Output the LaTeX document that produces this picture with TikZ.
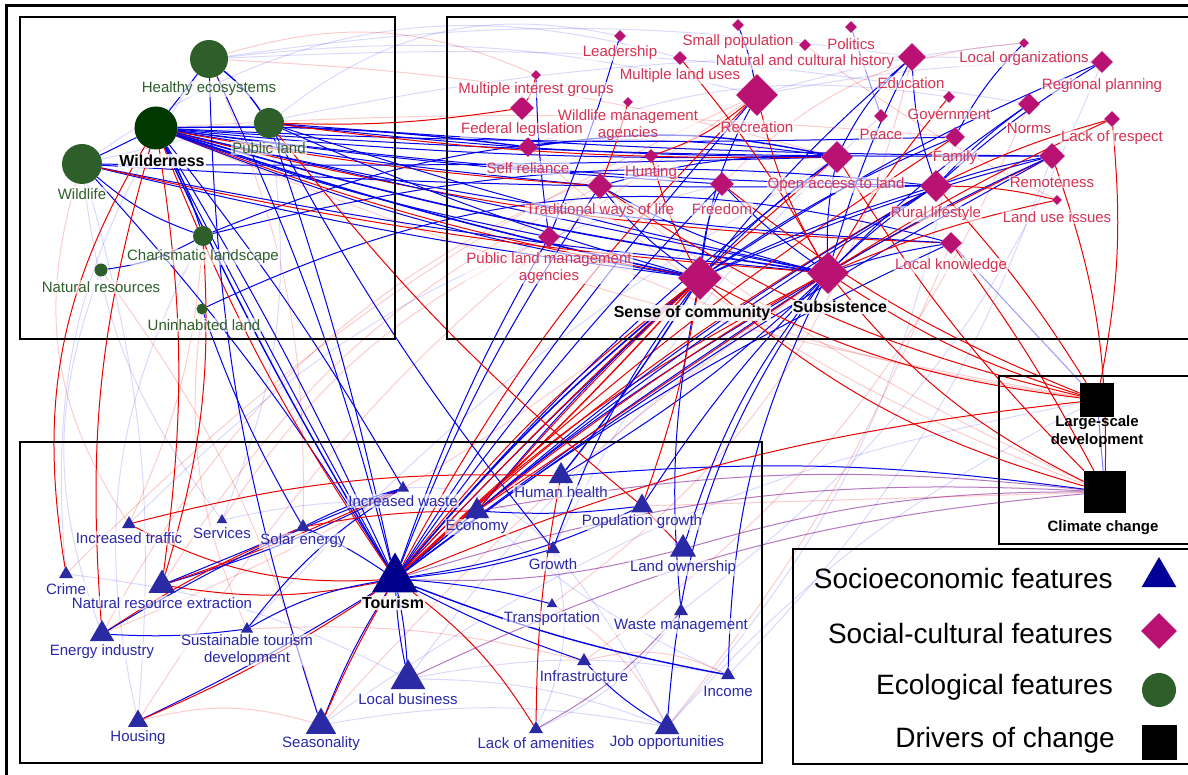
\documentclass[tikz,border=0pt]{standalone}
\usepackage{fontspec}
\setmainfont{Liberation Sans}
\usetikzlibrary{positioning,calc,shapes.geometric}

\definecolor{ecogreen}{RGB}{46,94,42}
\definecolor{wildgreen}{RGB}{0,56,0}
\definecolor{sccol}{RGB}{185,18,115}
\definecolor{sctext}{RGB}{214,50,82}
\definecolor{secol}{RGB}{42,42,165}
\definecolor{setext}{RGB}{40,40,170}
\definecolor{tourcol}{RGB}{0,0,140}
\definecolor{eblue}{RGB}{0,0,235}
\definecolor{ered}{RGB}{235,0,0}
\definecolor{epurple}{RGB}{130,30,150}

\pgfdeclarelayer{edges}
\pgfsetlayers{edges,main}

\tikzset{
	eco/.style={circle, fill=ecogreen, inner sep=0pt},
	cult/.style={diamond, fill=sccol, inner sep=0pt},
	econ/.style={regular polygon, regular polygon sides=3, fill=secol, inner sep=0pt},
	drv/.style={rectangle, fill=black, inner sep=0pt},
	lab/.style={font=\fontsize{15}{17}\selectfont, inner sep=1pt, fill=white, fill opacity=.6, text opacity=1, align=center},
	ecolab/.style={lab, text=ecogreen},
	cultlab/.style={lab, text=sctext},
	econlab/.style={lab, text=setext},
	keylab/.style={lab, font=\bfseries\fontsize{16}{18}\selectfont, fill opacity=.85},
	drvlab/.style={font=\bfseries\fontsize{15}{18}\selectfont, inner sep=1pt, align=center},
	legtxt/.style={font=\fontsize{28}{30}\selectfont, anchor=east, inner sep=0pt},
	box/.style={draw=black, line width=2pt},
	bl/.style={draw=eblue, line width=1pt},
	rd/.style={draw=ered, line width=1pt},
	fb/.style={draw=eblue, opacity=.15, line width=1pt},
	fr/.style={draw=ered, opacity=.2, line width=1pt},
	pu/.style={draw=epurple, opacity=.6, line width=1pt},
}

\begin{document}
\begin{tikzpicture}[x=1pt, y=-1pt]
	\useasboundingbox (0,0) rectangle (1188,775);
	\draw[line width=3pt] (6,775) -- (6,6) -- (1190,6);

	% boxes
	\draw[box] (20,17) rectangle (395,339);
	\draw[box] (447,17) rectangle (1192,339);
	\draw[box] (20,442) rectangle (762,763);
	\draw[box] (999,376) rectangle (1192,544);
	\draw[box] (793,549) rectangle (1192,764);

	% ecological features
	\node[eco, minimum size=38] (heal) at (209,59) {};
	\node[eco, fill=wildgreen, minimum size=43] (wild) at (156,128) {};
	\node[eco, minimum size=30] (publ) at (269,123) {};
	\node[eco, minimum size=40] (wlife) at (82,164) {};
	\node[eco, minimum size=20] (charis) at (203,236) {};
	\node[eco, minimum size=13] (natres) at (101,270) {};
	\node[eco, minimum size=11] (uninh) at (202,309) {};

	% social-cultural features
	\node[cult, minimum size=12] (lead) at (620,36) {};
	\node[cult, minimum size=12] (smallpop) at (738,25) {};
	\node[cult, minimum size=12] (natcult) at (805,45) {};
	\node[cult, minimum size=12] (politics) at (851,27) {};
	\node[cult, minimum size=14] (mland) at (680,58) {};
	\node[cult, minimum size=10] (minter) at (536,75) {};
	\node[cult, minimum size=10] (wman) at (628,102) {};
	\node[cult, minimum size=24] (fedleg) at (522,108) {};
	\node[cult, minimum size=42] (recr) at (757,95) {};
	\node[cult, minimum size=20] (selfrel) at (528,147) {};
	\node[cult, minimum size=14] (hunt) at (651,156) {};
	\node[cult, minimum size=26] (trad) at (600,186) {};
	\node[cult, minimum size=24] (freed) at (722,184) {};
	\node[cult, minimum size=22] (plma) at (549,237) {};
	\node[cult, minimum size=44] (sense) at (700,278) {};
	\node[cult, minimum size=42] (subs) at (828,273) {};
	\node[cult, minimum size=28] (educ) at (912,57) {};
	\node[cult, minimum size=10] (locorg) at (1024,43) {};
	\node[cult, minimum size=22] (regplan) at (1102,62) {};
	\node[cult, minimum size=12] (gov) at (949,97) {};
	\node[cult, minimum size=14] (peace) at (881,116) {};
	\node[cult, minimum size=22] (norms) at (1029,104) {};
	\node[cult, minimum size=16] (lackresp) at (1112,119) {};
	\node[cult, minimum size=20] (family) at (955,137) {};
	\node[cult, minimum size=32] (openacc) at (837,157) {};
	\node[cult, minimum size=26] (remote) at (1052,156) {};
	\node[cult, minimum size=32] (rural) at (936,186) {};
	\node[cult, minimum size=10] (landuse) at (1057,200) {};
	\node[cult, minimum size=22] (lockn) at (951,243) {};

	% socioeconomic features
	\node[econ, fill=tourcol, minimum size=53] (tourism) at (395,579) {};
	\node[econ, minimum size=40] (locbus) at (408,679) {};
	\node[econ, minimum size=35] (season) at (321,725) {};
	\node[econ, minimum size=31] (nre) at (162,585) {};
	\node[econ, minimum size=30] (landown) at (683,549) {};
	\node[econ, minimum size=28] (energy) at (102,634) {};
	\node[econ, minimum size=28] (economy) at (477,511) {};
	\node[econ, minimum size=28] (health) at (561,476) {};
	\node[econ, minimum size=28] (jobs) at (667,727) {};
	\node[econ, minimum size=25] (popgr) at (642,506) {};
	\node[econ, minimum size=23] (housing) at (138,721) {};
	\node[econ, minimum size=16] (inctraf) at (129,524) {};
	\node[econ, minimum size=16] (solar) at (303,527) {};
	\node[econ, minimum size=16] (crime) at (66,574) {};
	\node[econ, minimum size=16] (growth) at (553,549) {};
	\node[econ, minimum size=16] (wastem) at (681,611) {};
	\node[econ, minimum size=16] (infra) at (584,661) {};
	\node[econ, minimum size=16] (income) at (728,675) {};
	\node[econ, minimum size=16] (lackam) at (536,729) {};
	\node[econ, minimum size=14] (stdev) at (247,629) {};
	\node[econ, minimum size=14] (incwaste) at (403,488) {};
	\node[econ, minimum size=12] (serv) at (222,520) {};
	\node[econ, minimum size=12] (transp) at (552,604) {};

	% drivers of change
	\node[drv, minimum size=34] (lsd) at (1097,400) {};
	\node[drv, minimum size=42] (climate) at (1105,492) {};

	% connectors
	\begin{pgfonlayer}{edges}
	\draw[bl] (wild) -- (wlife);
	\draw[bl] (wild) -- (heal);
	\draw[bl] (wild) to[bend left=5] (charis);
	\draw[bl] (wlife) to[bend right=10] (charis);
	\draw[bl] (charis) to[bend left=10] (natres);
	\draw[bl] (charis) to[bend left=15] (openacc);
	\draw[bl] (charis) to[bend left=10] (rural);
	\draw[bl] (uninh) to[bend left=20] (lockn);
	\draw[bl, line width=1.4pt] (heal) to[bend left=8] (publ);
	\draw[bl, line width=1.6pt] (wild) to[bend right=4] (subs);
	\draw[bl, line width=1.6pt] (wild) to[bend right=3] (sense);
	\draw[bl] (wild) to[bend right=3] (openacc);
	\draw[bl] (wild) to[bend right=3] (rural);
	\draw[bl] (wild) to[bend right=2] (freed);
	\draw[bl] (wild) to[bend right=2] (trad);
	\draw[bl, line width=1.4pt] (wild) to[bend left=4] (selfrel);
	\draw[rd] (wild) to[bend right=3] (trad);
	\draw[rd] (wild) to[bend right=5] (sense);
	\draw[rd] (wild) to[bend right=6] (lockn);
	\draw[bl] (wild) to[bend right=2] (remote);
	\draw[bl] (wild) to[bend right=2] (family);
	\draw[bl] (wild) to[bend right=5] (lockn);
	\draw[bl] (wild) to[bend right=4] (plma);
	\draw[bl] (wild) to[bend right=1] (subs);
	\draw[bl] (wild) to[bend right=6] (sense);
	\draw[bl] (wlife) to[bend right=3] (subs);
	\draw[bl] (wlife) to[bend right=3] (sense);
	\draw[bl] (wlife) to[bend right=2] (rural);
	\draw[bl] (wlife) to[bend right=1] (openacc);
	\draw[rd] (wlife) to[bend right=4] (subs);
	\draw[bl] (publ) to[bend right=3] (openacc);
	\draw[bl] (publ) to[bend right=2] (remote);
	\draw[rd] (publ) to[bend right=5] (fedleg);
	\draw[bl] (publ) to[bend right=4] (sense);
	\draw[bl] (publ) to[bend right=3] (subs);
	\draw[rd] (publ) to[bend right=4] (openacc);

	\draw[bl, line width=1.6pt] (sense) to[bend right=5] (tourism);
	\draw[rd, line width=1.4pt] (sense) to[bend left=3] (tourism);
	\draw[bl] (sense) to[bend right=2] (tourism);
	\draw[rd] (sense) to[bend right=7] (tourism);
	\draw[bl] (subs) to[bend right=5] (tourism);
	\draw[rd] (subs) to[bend right=8] (tourism);
	\draw[bl] (subs) to[bend right=2] (tourism);
	\draw[bl] (openacc) to[bend right=6] (tourism);
	\draw[rd] (openacc) to[bend right=3] (tourism);
	\draw[rd] (rural) to[bend right=6] (tourism);
	\draw[bl] (rural) to[bend right=4] (tourism);
	\draw[bl] (freed) to[bend right=4] (tourism);
	\draw[rd] (recr) to[bend right=8] (tourism);
	\draw[bl] (recr) to[bend right=4] (tourism);
	\draw[bl] (trad) to[bend right=6] (tourism);
	\draw[bl] (plma) to[bend right=5] (tourism);
	\draw[bl] (lockn) to[bend right=6] (tourism);
	\draw[rd] (family) to[bend right=5] (tourism);
	\draw[bl] (remote) to[bend right=4] (tourism);
	\draw[rd] (remote) to[bend right=6] (economy);
	\draw[bl] (sense) to[bend right=4] (economy);
	\draw[rd] (sense) to[bend right=3] (economy);
	\draw[bl] (rural) to[bend right=5] (economy);
	\draw[bl, line width=1.4pt] (sense) to[bend left=3] (health);
	\draw[bl] (subs) to[bend left=6] (health);
	\draw[rd] (subs) to (economy);

	\draw[bl, line width=1.4pt] (wild) to[bend right=3] (tourism);
	\draw[bl] (wild) to[bend left=3] (tourism);
	\draw[bl] (wild) to[bend right=1] (tourism);
	\draw[bl] (wlife) to[bend left=5] (tourism);
	\draw[bl] (heal) to[bend left=5] (tourism);
	\draw[bl] (publ) to[bend left=3] (tourism);
	\draw[rd] (wild) to[bend right=6] (tourism);
	\draw[bl] (heal) to[bend right=8] (season);
	\draw[bl] (wild) to[bend left=4] (incwaste);
	\draw[bl] (publ) to[bend right=5] (growth);
	\draw[bl] (uninh) to[bend right=5] (solar);
	\draw[rd] (wild) to[bend right=20] (crime);
	\draw[rd] (wild) to[bend left=8] (nre);
	\draw[rd] (wild) to[bend right=10] (energy);
	\draw[rd] (charis) to[bend left=10] (nre);
	\draw[rd] (publ) to[bend right=6] (popgr);

	\draw[bl, line width=1.4pt] (tourism) to[bend right=5] (income);
	\draw[bl] (tourism) to[bend right=4] (infra);
	\draw[bl] (tourism) to[bend left=4] (locbus);
	\draw[bl] (tourism) to[bend right=4] (locbus);
	\draw[bl] (tourism) to[bend right=5] (season);
	\draw[rd] (tourism) to[bend right=3] (season);
	\draw[rd] (tourism) to[bend left=10] (lackam);
	\draw[rd] (tourism) to[bend left=15] (inctraf);
	\draw[rd] (tourism) to[bend left=10] (nre);
	\draw[bl] (tourism) to[bend right=10] (stdev);
	\draw[bl] (tourism) to[bend right=5] (solar);
	\draw[bl] (tourism) to[bend right=5] (growth);
	\draw[bl] (tourism) to[bend right=8] (popgr);
	\draw[pu] (tourism) to[bend right=8] (landown);
	\draw[bl] (tourism) to[bend left=5] (transp);
	\draw[bl] (nre) to[bend right=5] (incwaste);
	\draw[rd] (nre) to[bend right=3] (incwaste);
	\draw[bl] (nre) to (solar);
	\draw[bl] (energy) to[bend right=5] (stdev);
	\draw[rd] (energy) to[bend left=5] (solar);
	\draw[bl] (energy) to[bend left=5] (incwaste);
	\draw[bl] (housing) to[bend right=3] (tourism);
	\draw[rd] (housing) to[bend right=5] (tourism);
	\draw[bl] (stdev) to[bend left=10] (incwaste);
	\draw[rd] (lackam) to[bend left=5] (health);
	\draw[bl] (infra) to[bend right=8] (jobs);
	\draw[pu] (lackam) to[bend right=10] (wastem);
	\draw[rd] (inctraf) to[bend left=8] (health);
	\draw[rd] (solar) to[bend left=5] (economy);
	\draw[bl] (solar) to[bend left=5] (incwaste);
	\draw[bl] (economy) to[bend right=5] (popgr);
	\draw[rd] (popgr) to (landown);

	\draw[bl] (subs) to[bend right=10] (landown);
	\draw[bl] (subs) to[bend right=5] (popgr);
	\draw[bl] (subs) to[bend right=15] (jobs);
	\draw[bl] (subs) to[bend right=12] (income);
	\draw[bl] (sense) to[bend right=8] (growth);
	\draw[bl] (sense) to[bend right=8] (wastem);
	\draw[rd] (sense) to[bend left=5] (popgr);

	\draw[rd] (sense) to[bend right=10] (lsd);
	\draw[rd] (subs) to[bend right=8] (lsd);
	\draw[rd] (subs) to[bend right=12] (climate);
	\draw[rd] (sense) to[bend right=12] (climate);
	\draw[rd] (rural) to[bend left=5] (lsd);
	\draw[rd] (remote) to[bend left=10] (climate);
	\draw[rd] (lackresp) to[bend left=8] (lsd);
	\draw[rd] (lockn) to[bend left=4] (climate);
	\draw[rd] (trad) to[bend right=10] (lsd);
	\draw[rd] (freed) to[bend right=8] (lsd);
	\draw[rd] (openacc) to[bend right=6] (climate);
	\draw[fb, opacity=.4] (lockn) to (lsd);
	\draw[bl, opacity=.5] (lsd) -- (climate);
	\draw[rd] (tourism) to[bend left=8] (lsd);
	\draw[bl] (health) to[bend left=6] (climate);
	\draw[pu] (economy) to[bend left=8] (climate);
	\draw[pu] (landown) to[bend left=8] (climate);
	\draw[pu] (locbus) to[bend left=10] (climate);
	\draw[pu] (tourism) to[bend left=10] (climate);
	\draw[fr] (popgr) to (climate);
	\draw[fb] (jobs) to[bend left=10] (lsd);
	\draw[fr] (wild) to[bend right=6] (lsd);
	\draw[fr] (trad) to[bend right=6] (climate);
	\draw[fr] (plma) to[bend right=8] (lsd);
	\draw[fr] (selfrel) to[bend right=10] (climate);
	\draw[fb] (season) to[bend left=12] (lsd);

	\draw[bl] (sense) to[bend left=10] (recr);
	\draw[bl] (sense) to[bend left=5] (educ);
	\draw[bl] (sense) to[bend left=6] (family);
	\draw[bl] (sense) to[bend left=5] (openacc);
	\draw[bl] (sense) to[bend left=4] (rural);
	\draw[bl] (sense) to[bend left=5] (regplan);
	\draw[bl] (sense) to[bend left=4] (remote);
	\draw[bl] (sense) to[bend left=8] (freed);
	\draw[bl] (sense) to[bend left=8] (trad);
	\draw[rd] (sense) to[bend left=6] (hunt);
	\draw[bl] (subs) to[bend left=5] (rural);
	\draw[bl] (subs) to[bend left=6] (openacc);
	\draw[bl] (subs) to[bend left=5] (norms);
	\draw[bl] (subs) to[bend left=5] (educ);
	\draw[bl] (subs) to[bend left=3] (remote);
	\draw[bl] (subs) to[bend left=4] (lockn);
	\draw[bl] (subs) to[bend left=8] (trad);
	\draw[bl] (subs) to[bend left=5] (freed);
	\draw[rd] (subs) to[bend left=5] (landuse);
	\draw[rd] (subs) to[bend left=4] (lackresp);
	\draw[rd] (subs) to[bend left=5] (gov);
	\draw[rd] (subs) to[bend left=8] (recr);
	\draw[bl] (openacc) to[bend left=10] (educ);
	\draw[bl] (rural) to[bend left=5] (regplan);
	\draw[bl] (rural) to[bend left=5] (norms);
	\draw[bl] (rural) to[bend left=4] (remote);
	\draw[rd] (rural) to[bend left=5] (lackresp);
	\draw[rd] (rural) to[bend left=6] (landuse);
	\draw[bl] (family) to[bend left=8] (locorg);
	\draw[bl] (rural) to[bend left=8] (educ);
	\draw[bl] (trad) to[bend left=8] (openacc);
	\draw[bl, line width=1.4pt] (selfrel) to[bend left=10] (openacc);
	\draw[bl] (lead) to[bend left=3] (plma);
	\draw[bl] (minter) to[bend right=3] (plma);
	\draw[rd] (mland) to[bend left=5] (subs);
	\draw[rd] (recr) to[bend left=10] (hunt);
	\draw[bl] (smallpop) to[bend left=5] (recr);
	\draw[fb, opacity=.4] (politics) to (peace);
	\draw[rd] (wman) to[bend left=3] (trad);
	\draw[rd] (fedleg) to[bend right=10] (minter);

	\draw[fb] (heal) to[bend left=10] (recr);
	\draw[fb] (heal) to[bend left=8] (educ);
	\draw[fb] (heal) to[bend left=6] (norms);
	\draw[fr] (heal) to[bend left=6] (openacc);
	\draw[fb] (wlife) to[bend left=8] (regplan);
	\draw[fr] (wild) to[bend left=4] (family);
	\draw[fb] (recr) to[bend left=5] (regplan);
	\draw[fb] (recr) to[bend left=5] (locorg);
	\draw[fr] (natcult) to[bend right=5] (landuse);
	\draw[fb] (wlife) to[bend left=10] (housing);
	\draw[fr] (natres) to[bend left=10] (season);
	\draw[fb] (crime) to[bend left=10] (locbus);
	\draw[fr] (housing) to[bend left=15] (season);
	\draw[fb] (season) to[bend left=10] (jobs);
	\draw[fb] (locbus) to[bend left=10] (jobs);
	\draw[fb] (locbus) to[bend left=10] (income);
	\draw[fr] (stdev) to[bend left=8] (infra);
	\draw[fb] (economy) to[bend right=8] (income);
	\draw[fb] (growth) to[bend left=6] (jobs);
	\draw[fr] (inctraf) to[bend right=10] (charis);
	\draw[fb] (serv) to[bend left=10] (economy);
	\draw[fr] (sense) to[bend left=8] (energy);
	\draw[fb] (subs) to[bend right=10] (locbus);
	\draw[fr] (subs) to[bend right=6] (season);
	\draw[fb] (openacc) to[bend right=8] (stdev);
	\draw[fr] (recr) to[bend right=10] (crime);
	\draw[fb] (remote) to[bend left=12] (income);
	\draw[fr] (lockn) to[bend left=8] (jobs);
	\draw[fb] (heal) to[bend right=20] (crime);
	\draw[fb] (wlife) to[bend right=15] (serv);
	\draw[fr] (wlife) to[bend right=25] (inctraf);
	\draw[fb] (publ) to[bend left=15] (serv);
	\draw[fr] (heal) to[bend left=12] (solar);
	\draw[fb] (charis) to[bend right=20] (housing);
	\draw[fr] (uninh) to[bend right=15] (stdev);
	\draw[fb] (natres) to[bend right=20] (energy);
	\draw[fr] (trad) to[bend right=15] (nre);
	\draw[fb] (freed) to[bend right=15] (inctraf);
	\draw[fr] (recr) to[bend right=12] (housing);
	\draw[fb] (family) to[bend left=15] (jobs);
	\draw[fr] (norms) to[bend left=15] (infra);
	\draw[fb] (regplan) to[bend left=15] (wastem);
	\draw[fr] (educ) to[bend left=20] (transp);
	\draw[fb] (peace) to[bend right=10] (growth);
	\draw[fr] (hunt) to[bend right=20] (energy);
	\draw[fb] (mland) to[bend right=25] (wlife);
	\draw[fr] (minter) to[bend right=20] (heal);
	\draw[fb] (lead) to[bend right=25] (publ);
	\draw[fr] (locorg) to[bend right=20] (freed);
	\draw[fb] (gov) to[bend right=15] (selfrel);
	\draw[fr] (plma) to[bend right=15] (serv);
	\draw[fb] (growth) to[bend left=20] (lackam);
	\draw[fr] (transp) to[bend left=15] (jobs);
	\draw[fb] (wastem) to[bend left=15] (lackam);
	\draw[fr] (infra) to[bend left=20] (income);
	\draw[fb] (incwaste) to[bend left=25] (growth);
	\end{pgfonlayer}

	% labels
	\node[ecolab] (heal-l) at (209,89) {Healthy ecosystems};
	\node[keylab] (wild-l) at (162,161) {Wilderness};
	\node[ecolab] (publ-l) at (269,148) {Public land};
	\node[ecolab] (wlife-l) at (82,194) {Wildlife};
	\node[ecolab] (charis-l) at (203,257) {Charismatic landscape};
	\node[ecolab] (natres-l) at (101,287) {Natural resources};
	\node[ecolab] (uninh-l) at (204,325) {Uninhabited land};

	\node[cultlab] (lead-l) at (620,53) {Leadership};
	\node[cultlab] (smallpop-l) at (738,42) {Small population};
	\node[cultlab] (natcult-l) at (805,62) {Natural and cultural history};
	\node[cultlab] (politics-l) at (851,44) {Politics};
	\node[cultlab] (mland-l) at (680,76) {Multiple land uses};
	\node[cultlab] (minter-l) at (536,90) {Multiple interest groups};
	\node[cultlab] (wman-l) at (628,125) {Wildlife management\\agencies};
	\node[cultlab] (fedleg-l) at (522,130) {Federal legislation};
	\node[cultlab] (recr-l) at (757,127) {Recreation};
	\node[cultlab] (selfrel-l) at (528,168) {Self reliance};
	\node[cultlab] (hunt-l) at (651,173) {Hunting};
	\node[cultlab] (trad-l) at (600,211) {Traditional ways of life};
	\node[cultlab] (freed-l) at (722,209) {Freedom};
	\node[cultlab] (plma-l) at (549,268) {Public land management\\agencies};
	\node[keylab] (sense-l) at (692,313) {Sense of community};
	\node[keylab] (subs-l) at (840,307) {Subsistence};
	\node[cultlab] (educ-l) at (911,83) {Education};
	\node[cultlab] (locorg-l) at (1024,59) {Local organizations};
	\node[cultlab] (regplan-l) at (1102,86) {Regional planning};
	\node[cultlab] (gov-l) at (949,114) {Government};
	\node[cultlab] (peace-l) at (881,134) {Peace};
	\node[cultlab] (norms-l) at (1029,128) {Norms};
	\node[cultlab] (lackresp-l) at (1112,138) {Lack of respect};
	\node[cultlab] (family-l) at (955,158) {Family};
	\node[cultlab] (openacc-l) at (836,185) {Open access to land};
	\node[cultlab] (remote-l) at (1052,182) {Remoteness};
	\node[cultlab] (rural-l) at (936,214) {Rural lifestyle};
	\node[cultlab] (landuse-l) at (1057,217) {Land use issues};
	\node[cultlab] (lockn-l) at (951,266) {Local knowledge};

	\node[econlab] (inctraf-l) at (129,538) {Increased traffic};
	\node[econlab] (serv-l) at (222,533) {Services};
	\node[econlab] (solar-l) at (303,541) {Solar energy};
	\node[econlab] (crime-l) at (66,589) {Crime};
	\node[econlab] (nre-l) at (162,603) {Natural resource extraction};
	\node[econlab] (energy-l) at (102,652) {Energy industry};
	\node[econlab] (stdev-l) at (247,650) {Sustainable tourism\\development};
	\node[econlab] (housing-l) at (138,738) {Housing};
	\node[econlab] (season-l) at (321,744) {Seasonality};
	\node[econlab] (locbus-l) at (408,699) {Local business};
	\node[keylab] (tourism-l) at (393,603) {Tourism};
	\node[econlab] (incwaste-l) at (403,501) {Increased waste};
	\node[econlab] (economy-l) at (477,527) {Economy};
	\node[econlab] (health-l) at (561,492) {Human health};
	\node[econlab] (popgr-l) at (642,522) {Population growth};
	\node[econlab] (growth-l) at (553,564) {Growth};
	\node[econlab] (landown-l) at (683,568) {Land ownership};
	\node[econlab] (transp-l) at (552,619) {Transportation};
	\node[econlab] (wastem-l) at (681,626) {Waste management};
	\node[econlab] (infra-l) at (584,676) {Infrastructure};
	\node[econlab] (income-l) at (728,691) {Income};
	\node[econlab] (lackam-l) at (536,743) {Lack of amenities};
	\node[econlab] (jobs-l) at (667,743) {Job opportunities};

	\node[drvlab] (lsd-l) at (1097,432) {Large-scale\\development};
	\node[drvlab] (climate-l) at (1103,528) {Climate change};

	% legend
	\node[legtxt] (lg1) at (1113,578) {Socioeconomic features};
	\node[legtxt] (lg2) at (1113,633) {Social-cultural features};
	\node[legtxt] (lg3) at (1113,687) {Ecological features};
	\node[legtxt] (lg4) at (1115,740) {Drivers of change};
	\node[econ, fill=blue!60!black, minimum size=40] (lgse) at (1159,577) {};
	\node[cult, minimum size=36] (lgsc) at (1159,631) {};
	\node[eco, minimum size=34] (lgeco) at (1159,690) {};
	\node[drv, minimum size=35] (lgdr) at (1159,742) {};
\end{tikzpicture}
\end{document}
